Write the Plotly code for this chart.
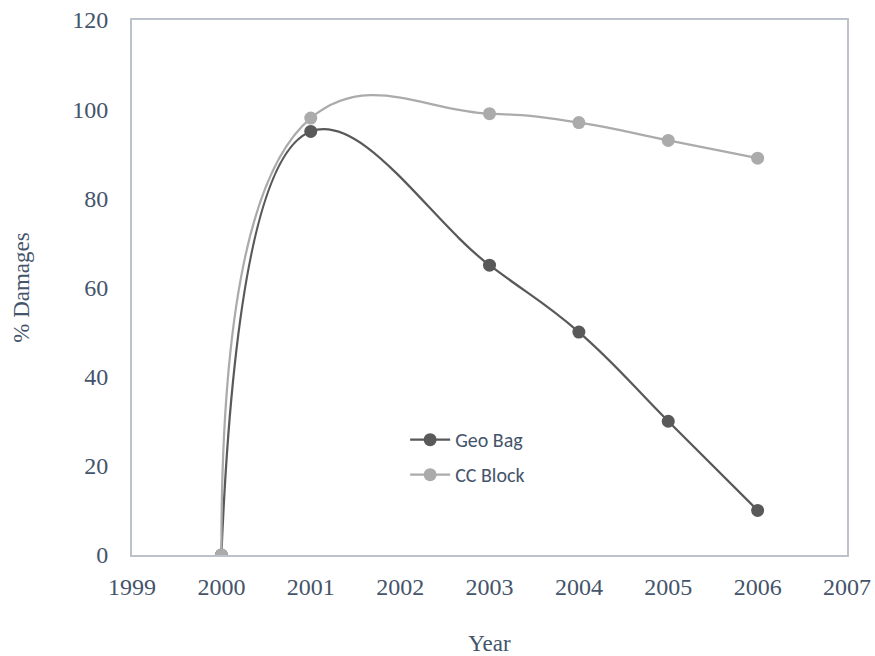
import plotly.graph_objects as go

years = [2000, 2001, 2003, 2004, 2005, 2006]
geo_bag = [0, 95, 65, 50, 30, 10]
cc_block = [0, 98, 99, 97, 93, 89]
x_ticks = [1999, 2000, 2001, 2002, 2003, 2004, 2005, 2006, 2007]
y_ticks = [0, 20, 40, 60, 80, 100, 120]

serif = "Liberation Serif, Times New Roman, serif"
sans = "Carlito, Liberation Sans, Arial, sans-serif"
text_col = "#44546A"

fig = go.Figure()
fig.add_trace(go.Scatter(
    x=years, y=geo_bag, name="Geo Bag", mode="lines+markers", legendgroup="g1",
    line=dict(color="#595959", width=2.25, shape="spline", smoothing=1.2),
    marker=dict(color="#595959", size=13),
))
fig.add_trace(go.Scatter(
    x=years, y=cc_block, name="CC Block", mode="lines+markers", legendgroup="g2",
    line=dict(color="#ABABAB", width=2.25, shape="spline", smoothing=1.3),
    marker=dict(color="#ABABAB", size=13),
))

fig.update_layout(
    width=875, height=656,
    margin=dict(l=132, r=28, t=20, b=101),
    paper_bgcolor="white", plot_bgcolor="white",
    showlegend=True,
    legend=dict(
        x=0.382, y=0.252, xanchor="left", yanchor="top",
        font=dict(family=sans, size=20, color=text_col),
        bgcolor="rgba(0,0,0,0)", itemwidth=40,
        traceorder="grouped", tracegroupgap=6,
    ),
    xaxis=dict(
        range=[1999, 2007], tickvals=x_ticks, ticktext=[str(v) for v in x_ticks],
        showgrid=False, zeroline=False, showline=True, mirror=True, automargin=False,
        linecolor="#BCC2CB", linewidth=2, ticks="", ticklabelstandoff=9,
        tickfont=dict(family=serif, size=24, color=text_col),
        title=dict(text="Year", font=dict(family=serif, size=23, color=text_col), standoff=36),
    ),
    yaxis=dict(
        range=[0, 120], tickvals=y_ticks,
        showgrid=False, zeroline=False, showline=True, mirror=True, automargin=False,
        linecolor="#BCC2CB", linewidth=2, ticks="", ticklabelstandoff=17,
        tickfont=dict(family=serif, size=24, color=text_col),
        title=dict(text="% Damages", font=dict(family=serif, size=23, color=text_col), standoff=36),
    ),
)

fig.write_html("out.html")
